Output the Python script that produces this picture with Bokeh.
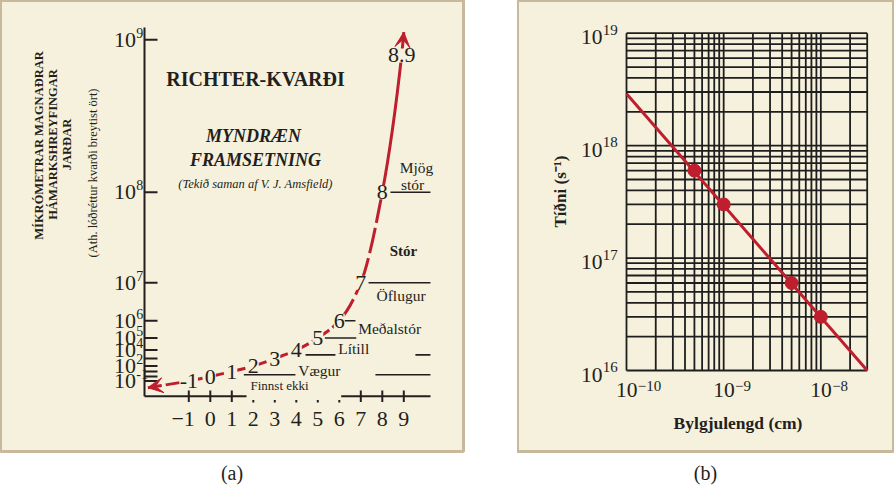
import numpy as np
from bokeh.plotting import figure
from bokeh.models import Range1d, Title, Arrow, VeeHead
from bokeh.layouts import row
from bokeh.embed import file_html
from bokeh.resources import INLINE
from bokeh.core.properties import value

# ======================= DATA =======================
# (a) Richter scale: magnitude M <-> ground amplitude 10^M micrometres
curve_magnitude = [-2.9, -1, 0, 1, 2, 3, 4, 5, 6, 7, 8, 8.9, 9.0]
curve_log_amplitude = [-2.9, -1, 0, 1, 2, 3, 4, 5, 6, 7, 8, 8.9, 9.05]
curve_labels = ["", "-1", "0", "1", "2", "3", "4", "5", "6", "7", "8", "8.9", ""]
magnitude_ticks = [-1, 0, 1, 2, 3, 4, 5, 6, 7, 8, 9]
magnitude_tick_labels = ["\u22121", "0", "1", "2", "3", "4", "5", "6", "7", "8", "9"]
amplitude_tick_exponents = [9, 8, 7, 6, 5, 4, 3, 2, 1, 0, -1]
amplitude_label_exponents = [9, 8, 7, 6, 5, 4, 2, -1]
amplitude_label_texts = ["9", "8", "7", "6", "5", "4", "2", "-1"]
class_names = ["Mjög stór", "Stór", "Öflugur", "Meðalstór", "Lítill", "Vægur", "Finnst ekki"]
class_boundary_level = [8, 7, 6, 5, 3.45, 3.45, 0.35, 0.35]
class_boundary_from = [8.38, 7.36, 6.21, 5.33, 4.43, 9.54, 1.56, 7.68]
class_boundary_to = [10.24, 10.24, 6.75, 6.79, 5.82, 10.24, 3.96, 10.24]

# (b) frequency vs wavelength
wavelength_line = [1e-10, 3e-8]
frequency_line = [2.9e18, 1.0e16]
wavelength_points = [5e-10, 1e-9, 5e-9, 1e-8]
frequency_points = [6e17, 3e17, 6e16, 3e16]
x_decades_b = [-10, -9, -8]
y_decades_b = [16, 17, 18, 19]
x_grid_extent = [1e-10, 3e-8]
y_grid_extent = [1e16, 1e19]

# ======================= STYLE =======================
INK = "#231F20"
RED = "#BE1E2D"
BEIGE = "#F6F1DC"
TAN = "#C8B89C"
FONT = "Liberation Serif"
CANVAS_H = 492
FRAME_H = 451

# ---------- helpers ----------
def pchip_slopes(xk, yk):
    xk = np.asarray(xk, float); yk = np.asarray(yk, float)
    h = np.diff(xk); d = np.diff(yk) / h
    m = np.empty_like(yk)
    m[0], m[-1] = d[0], d[-1]
    for k in range(1, len(xk) - 1):
        if d[k - 1] * d[k] <= 0:
            m[k] = 0.0
        else:
            w1 = 2 * h[k] + h[k - 1]; w2 = h[k] + 2 * h[k - 1]
            m[k] = (w1 + w2) / (w1 / d[k - 1] + w2 / d[k])
    return h, m

def pchip_eval(xk, yk, x):
    h, m = pchip_slopes(xk, yk)
    xk = np.asarray(xk, float); yk = np.asarray(yk, float)
    x = np.atleast_1d(np.asarray(x, float))
    i = np.clip(np.searchsorted(xk, x) - 1, 0, len(h) - 1)
    t = (x - xk[i]) / h[i]
    h00 = 2 * t**3 - 3 * t**2 + 1; h10 = t**3 - 2 * t**2 + t
    h01 = -2 * t**3 + 3 * t**2; h11 = t**3 - t**2
    return h00 * yk[i] + h10 * h[i] * m[i] + h01 * yk[i + 1] + h11 * h[i] * m[i + 1]

def txt(p, x, y, s, size, style="normal", align="center", angle=0.0, **kw):
    p.text(x=[x], y=[y], text=[s], text_font=value(FONT), text_font_size=f"{size}px",
           text_font_style=style, text_align=align, text_baseline="middle",
           text_color=INK, angle=angle, **kw)

# ======================= PANEL (a) =======================
A_W = 463
A_CANVAS_W = 517
X0_PX, X_UNIT = 209.8, 21.5   # layout: pixel of M=0, pixels per magnitude

def ax(px):
    return (px - X0_PX) / X_UNIT

# the vertical scale "changes rapidly": anchor positions of amplitude exponents
SCALE_EXP = [-3, -1, 0, 1, 2, 3, 4, 5, 6, 7, 8, 9, 10]
SCALE_PX = [387.5, 380.5, 376, 371, 365.5, 358, 349.5, 337.5, 320.3, 282.3, 191.7, 39.3, -113]

def amp_y(e):
    return pchip_eval(SCALE_EXP, SCALE_PX, e)

pa = figure(width=A_CANVAS_W, height=CANVAS_H, title=None,
            x_range=Range1d(ax(0), ax(A_W)), y_range=Range1d(FRAME_H, 0),
            x_axis_location=None, y_axis_location=None,
            toolbar_location=None, output_backend="svg",
            min_border_left=0, min_border_top=0,
            min_border_right=A_CANVAS_W - A_W, min_border_bottom=CANVAS_H - FRAME_H,
            background_fill_color=BEIGE, border_fill_color="white",
            outline_line_color=TAN, outline_line_width=3)
pa.grid.grid_line_color = None

AXIS_X = ax(144)
AXIS_Y = 395.7
# axes
pa.segment(x0=[AXIS_X], y0=[27], x1=[AXIS_X], y1=[AXIS_Y], line_color=INK, line_width=2)
pa.segment(x0=[AXIS_X, ax(340.7)], y0=[AXIS_Y, AXIS_Y], x1=[ax(246), ax(430)], y1=[AXIS_Y, AXIS_Y],
           line_color=INK, line_width=2)
full = [m for m in magnitude_ticks if not (2 <= m <= 6)]
stub = [m for m in magnitude_ticks if 2 <= m <= 6]
pa.segment(x0=full, y0=[390] * len(full), x1=full, y1=[401.5] * len(full), line_color=INK, line_width=2)
pa.segment(x0=stub, y0=[399.5] * len(stub), x1=stub, y1=[402] * len(stub), line_color=INK, line_width=2)
for m, lab in zip(magnitude_ticks, magnitude_tick_labels):
    if lab.startswith("\u2212"):
        txt(pa, m + 0.28, 418, lab, 22, align="right")
    else:
        txt(pa, m, 418, lab, 22)

ty = amp_y(amplitude_tick_exponents)
n = len(ty)
pa.segment(x0=[AXIS_X] * n, y0=ty, x1=[ax(157)] * n, y1=ty, line_color=INK, line_width=2)
for e, lab in zip(amplitude_label_exponents, amplitude_label_texts):
    yy = float(amp_y(e)[0])
    txt(pa, ax(135.5), yy, "10", 22, align="right")
    txt(pa, ax(135.8), yy - 7, lab, 14, align="left")

# class boundary lines
by_lvl = amp_y(class_boundary_level)
pa.segment(x0=class_boundary_from, y0=by_lvl, x1=class_boundary_to, y1=by_lvl,
           line_color=INK, line_width=1.6)

# Richter curve as smooth Bezier pieces through the labelled points
cx = np.asarray(curve_magnitude, float)
cy = amp_y(curve_log_amplitude)
h, mslope = pchip_slopes(cx, cy)
segs = dict(x0=cx[:-1], y0=cy[:-1], x1=cx[1:], y1=cy[1:],
            cx0=cx[:-1] + h / 3, cy0=cy[:-1] + mslope[:-1] * h / 3,
            cx1=cx[1:] - h / 3, cy1=cy[1:] - mslope[1:] * h / 3)
def bez(idx, dash):
    pa.bezier(**{k: list(v[idx]) for k, v in segs.items()}, line_color=RED, line_width=3,
              line_dash=dash)
nseg = len(cx) - 1
lower = [k for k in range(nseg) if cx[k + 1] <= 6]
middle = [k for k in range(nseg) if 6 < cx[k + 1] <= 8]
upper = [k for k in range(nseg) if cx[k + 1] > 8]
bez(lower, "14 4")
bez(middle, "26 5")
bez(upper, "solid")

pa.add_layout(Arrow(end=VeeHead(size=15, fill_color=RED, line_color=RED),
                    x_start=cx[1], y_start=cy[1], x_end=cx[0], y_end=cy[0], line_color=None))
pa.add_layout(Arrow(end=VeeHead(size=15, fill_color=RED, line_color=RED),
                    x_start=cx[-2], y_start=cy[-2], x_end=cx[-1], y_end=cy[-1], line_color=None))

lx = [x for x, s in zip(cx, curve_labels) if s]
ly = [y for y, s in zip(cy, curve_labels) if s]
ls = [s for s in curve_labels if s]
pa.text(x=lx, y=ly, text=ls, text_font=value(FONT), text_font_size="22px",
        text_align="center", text_baseline="middle", text_color=INK,
        background_fill_color=BEIGE, padding=0)

# class names
mj, st = class_names[0].split(" ")
txt(pa, ax(416), 167, mj, 15.5)
txt(pa, ax(412), 184, st, 15.5)
txt(pa, ax(403), 250, class_names[1], 15, style="bold")
txt(pa, ax(400.5), 295, class_names[2], 15.5)
txt(pa, ax(357.7), 327.5, class_names[3], 15.5, align="left")
txt(pa, ax(337.7), 347.5, class_names[4], 15.5, align="left")
txt(pa, ax(297.7), 369.5, class_names[5], 15.5, align="left")
txt(pa, ax(250), 384.5, class_names[6], 13, align="left")

# titles
txt(pa, ax(255), 78, "RICHTER-KVARÐI", 20, style="bold")
txt(pa, ax(253), 135, "MYNDRÆN", 18, style="bold italic")
txt(pa, ax(255), 159, "FRAMSETNING", 18, style="bold italic")
txt(pa, ax(255), 183, "(Tekið saman af V. J. Amsfield)", 12.5, style="italic")
txt(pa, ax(38.5), 145, "MÍKRÓMETRAR MAGNAÐRAR", 12.5, style="bold", angle=np.pi / 2)
txt(pa, ax(52), 144, "HÁMARKSHREYFINGAR", 12.5, style="bold", angle=np.pi / 2)
txt(pa, ax(66.5), 144, "JARÐAR", 12.5, style="bold", angle=np.pi / 2)
txt(pa, ax(92.5), 172.5, "(Ath. lóðréttur kvarði breytist ört)", 12.5, angle=np.pi / 2)

pa.add_layout(Title(text="(a)", align="center", text_font=FONT, text_font_size="20px",
                    text_font_style="normal", text_color=INK, standoff=16), "below")

# ======================= PANEL (b) =======================
B_CANVAS_W = 894 - A_CANVAS_W
B_W = 376
GRID_L, GRID_R, GRID_T, GRID_B = 109, 349.7, 32.7, 370   # layout of the grid box

DEC_X = (GRID_R - GRID_L) / np.log10(x_grid_extent[1] / x_grid_extent[0])
XLOG0 = np.log10(x_grid_extent[0]) - GRID_L / DEC_X
DEC_Y = (GRID_B - GRID_T) / np.log10(y_grid_extent[1] / y_grid_extent[0])
YLOG_TOP = np.log10(y_grid_extent[1]) + GRID_T / DEC_Y

def bx(px):
    return 10 ** (XLOG0 + px / DEC_X)
def byy(py):
    return 10 ** (YLOG_TOP - py / DEC_Y)
def pxb(x):
    return (np.log10(x) - XLOG0) * DEC_X
def pyb(y):
    return (YLOG_TOP - np.log10(y)) * DEC_Y

pb = figure(width=B_CANVAS_W, height=CANVAS_H, title=None,
            x_axis_type="log", y_axis_type="log",
            x_range=Range1d(bx(0), bx(B_W)), y_range=Range1d(byy(FRAME_H), byy(0)),
            x_axis_location=None, y_axis_location=None,
            toolbar_location=None, output_backend="svg",
            min_border_left=0, min_border_top=0,
            min_border_right=B_CANVAS_W - B_W, min_border_bottom=CANVAS_H - FRAME_H,
            background_fill_color=BEIGE, border_fill_color="white",
            outline_line_color=TAN, outline_line_width=3)
pb.grid.grid_line_color = None

vx = [m * 10.0 ** d for d in x_decades_b for m in range(1, 10)
      if m * 10.0 ** d <= x_grid_extent[1] * 1.0001]
hy = [m * 10.0 ** d for d in y_decades_b for m in range(1, 10)
      if m * 10.0 ** d <= y_grid_extent[1] * 1.0001]
pb.segment(x0=vx, y0=[y_grid_extent[0]] * len(vx), x1=vx, y1=[y_grid_extent[1]] * len(vx),
           line_color="#1E1E1E", line_width=1.8)
pb.segment(x0=[x_grid_extent[0]] * len(hy), y0=hy, x1=[x_grid_extent[1]] * len(hy), y1=hy,
           line_color="#1E1E1E", line_width=1.8)

pb.line(wavelength_line, frequency_line, line_color=RED, line_width=3)
pb.scatter(wavelength_points, frequency_points, size=13, fill_color=RED, line_color=RED)

for d in x_decades_b:
    px = pxb(10.0 ** d)
    txt(pb, bx(px + 11), byy(389), "10", 21.5, align="right")
    txt(pb, bx(px + 11.3), byy(385.5), "\u2212" + str(abs(d)), 15, align="left")
for d in y_decades_b:
    py = pyb(10.0 ** d) + 4
    txt(pb, bx(85), byy(py), "10", 21.5, align="right")
    txt(pb, bx(85.3), byy(py - 7.5), str(d), 15, align="left")

txt(pb, bx(220.5), byy(422.7), "Bylgjulengd (cm)", 17.5, style="bold")
txt(pb, bx(43), byy(191), "Tíðni (s\u207b\u00b9)", 17, style="bold", angle=np.pi / 2)

pb.add_layout(Title(text="(b)", align="center", text_font=FONT, text_font_size="20px",
                    text_font_style="normal", text_color=INK, standoff=16), "below")

layout = row(pa, pb)
open("out.html", "w").write(file_html(layout, INLINE))
